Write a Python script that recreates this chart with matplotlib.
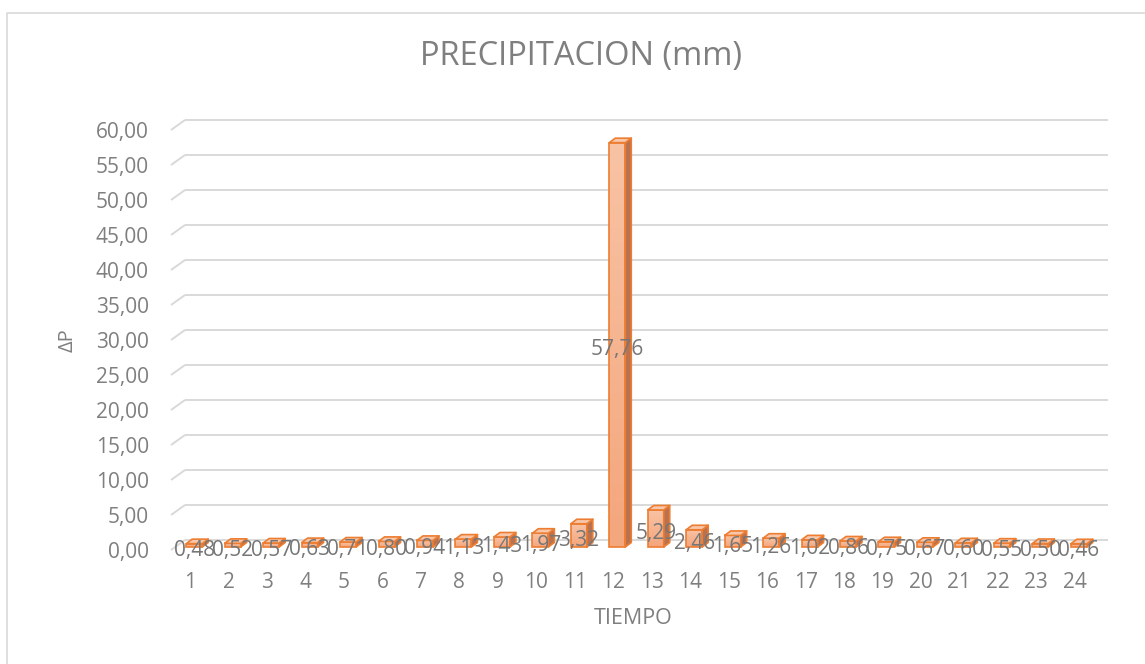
import numpy as np
import matplotlib
matplotlib.use("Agg")
import matplotlib.pyplot as plt
from matplotlib.patches import Polygon, Rectangle
from matplotlib.lines import Line2D
from matplotlib.transforms import ScaledTranslation

# Hourly precipitation increments (mm)
tiempo = list(range(1, 25))
precipitacion = [0.48, 0.52, 0.57, 0.63, 0.71, 0.80, 0.94, 1.13, 1.43, 1.97, 3.32, 57.76,
                 5.29, 2.46, 1.65, 1.26, 1.02, 0.86, 0.75, 0.67, 0.60, 0.55, 0.50, 0.46]
y_ticks = [0, 5, 10, 15, 20, 25, 30, 35, 40, 45, 50, 55, 60]

title = "PRECIPITACION (mm)"
x_label = "TIEMPO"
y_label = "ΔP"

TEXT = "#7f7f7f"
LABEL = "#767676"
GRID = "#d9d9d9"
EDGE = "#ed7d31"
TOP = "#f8c6a9"
SIDE = "#b9714f"

plt.rcParams["font.family"] = ["Open Sans", "DejaVu Sans"]

W, H, DPI = 1145, 664, 100
fig = plt.figure(figsize=(W / DPI, H / DPI), dpi=DPI)
fig.patch.set_facecolor("white")

# chart frame (left and top edges)
fig.add_artist(Line2D([7 / W, 7 / W, 1.0], [0.0, 1 - 13 / H, 1 - 13 / H],
                      transform=fig.transFigure, color=GRID, lw=1.2))

ax = fig.add_axes([171 / W, 1 - 550 / H, 923 / W, 420 / H])
ax.set_xlim(0.5, 24.5)
ax.set_ylim(0, 60)
for s in ax.spines.values():
    s.set_visible(False)
ax.set_facecolor("none")

# pixel -> data unit scales
p0 = ax.transData.transform((0, 0))
p1 = ax.transData.transform((1, 1))
sx, sy = p1[0] - p0[0], p1[1] - p0[1]

# back wall: shifted right and up from the front plane
wall_dx, wall_dy = 14, 10
back = ax.transData + ScaledTranslation(wall_dx / DPI, wall_dy / DPI, fig.dpi_scale_trans)
for t in y_ticks:
    ax.plot([0.5, 24.5], [t, t], transform=back, color=GRID, lw=1.4,
            clip_on=False, zorder=0, solid_capstyle="butt")
    ax.plot([0.5, 0.5 + wall_dx / sx], [t, t + wall_dy / sy], color=GRID, lw=1.4,
            clip_on=False, zorder=0, solid_capstyle="butt")

# 3-D style columns
fx, fy = 4 / sx, 3 / sy          # front face shift
hw = 8 / sx                      # half width of front face
ddx, ddy = 6 / sx, 4.5 / sy      # column depth
grad = np.linspace(0, 1, 64).reshape(-1, 1)
cmap = matplotlib.colors.LinearSegmentedColormap.from_list("col", ["#f4a67c", "#f8c3a5"])

for x, v in zip(tiempo, precipitacion):
    x0, x1 = x + fx - hw, x + fx + hw
    y0, y1 = fy, fy + v
    front = Rectangle((x0, y0), x1 - x0, v, facecolor="#f5b18b", edgecolor="none",
                      zorder=3, clip_on=False)
    ax.add_patch(front)
    im = ax.imshow(grad, extent=(x0, x1, y0, y1), origin="lower", cmap=cmap,
                   aspect="auto", zorder=3.1, interpolation="bilinear")
    im.set_clip_path(front)
    ax.add_patch(Rectangle((x0, y0), x1 - x0, v, facecolor="none", edgecolor=EDGE,
                           lw=1.2, zorder=3.2, clip_on=False))
    ax.add_patch(Polygon([(x1, y0), (x1 + ddx, y0 + ddy), (x1 + ddx, y1 + ddy), (x1, y1)],
                         closed=True, facecolor=SIDE, edgecolor=EDGE, lw=1.2,
                         zorder=3.3, clip_on=False, joinstyle="round"))
    ax.add_patch(Polygon([(x0, y1), (x1, y1), (x1 + ddx, y1 + ddy), (x0 + ddx, y1 + ddy)],
                         closed=True, facecolor=TOP, edgecolor=EDGE, lw=1.2,
                         zorder=3.4, clip_on=False, joinstyle="round"))

ax.set_xlim(0.5, 24.5)
ax.set_ylim(0, 60)

# value labels, centred on each column's front face
lab_tr = ax.transData + ScaledTranslation(0, -5 / DPI, fig.dpi_scale_trans)
for x, v in zip(tiempo, precipitacion):
    ax.text(x + fx, fy + v / 2, f"{v:.2f}".replace(".", ","), ha="center", va="center",
            fontsize=15, color=LABEL, zorder=5, clip_on=False, transform=lab_tr)

ax.set_yticks(y_ticks)
ax.set_yticklabels([f"{t:.2f}".replace(".", ",") for t in y_ticks])
ax.set_xticks(tiempo)
ax.set_xticklabels([str(t) for t in tiempo])
ax.tick_params(axis="both", length=0, labelsize=15, labelcolor=TEXT)
ax.tick_params(axis="y", pad=16)
ax.tick_params(axis="x", pad=15.5)

ax.set_xlabel(x_label, fontsize=15.5, color=TEXT)
ax.xaxis.set_label_coords((633 - 171) / 923, (550 - 618) / 420)
ax.xaxis.label.set_va("center")
ax.set_ylabel(y_label, fontsize=14.5, color=TEXT)
ax.yaxis.set_label_coords((68 - 171) / 923, 0.5)
ax.yaxis.label.set_va("center")

fig.text(581 / W, 1 - 56 / H, title, ha="center", va="center", fontsize=23.5, color=TEXT)

fig.savefig("out.png", dpi=DPI)
